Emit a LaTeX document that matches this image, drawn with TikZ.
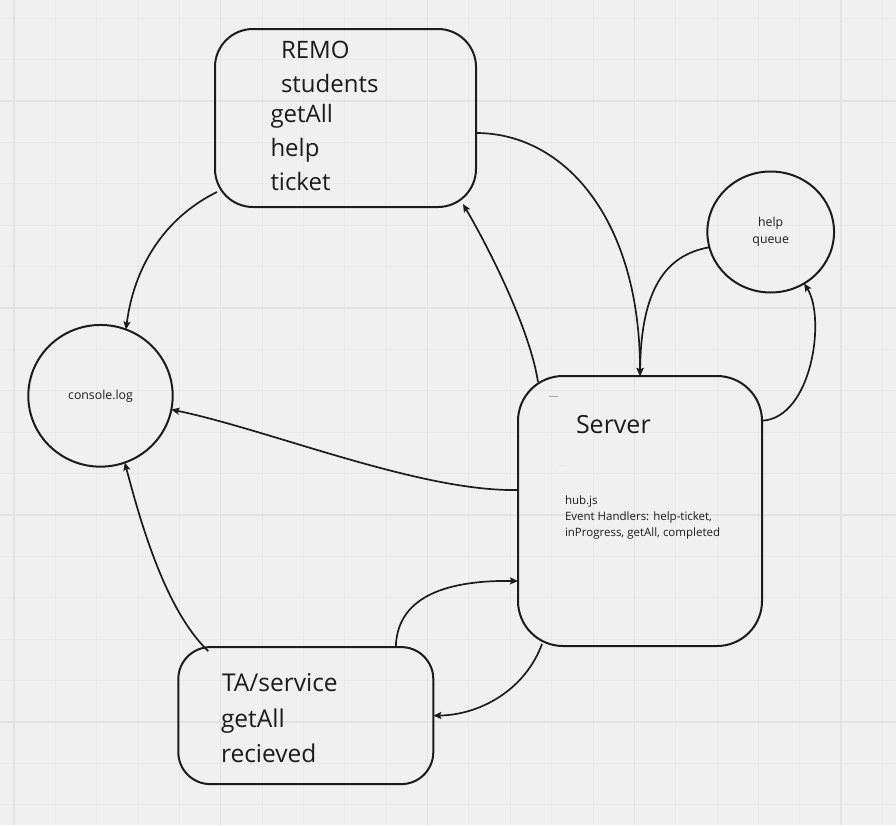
\documentclass[tikz,border=0pt]{standalone}
\usepackage{fontspec}
\setmainfont{Open Sans}
\usepackage{tikz}
\usetikzlibrary{arrows.meta,shapes.geometric}

\definecolor{paper}{HTML}{F0F0F0}
\definecolor{gridminor}{HTML}{E9E9E9}
\definecolor{gridmajor}{HTML}{E2E2E2}
\definecolor{ink}{HTML}{1C1C1C}

\begin{document}
\begin{tikzpicture}[x=1pt, y=-1pt, every node/.style={
    inner sep=0pt,
    outer sep=0pt,
    text=ink,
  },
  box/.style={rectangle, draw=ink, line width=2pt},
  blob/.style={ellipse, draw=ink, line width=2pt, align=center,
    font=\fontsize{12.3}{17}\selectfont},
  big/.style={anchor=base west, font=\fontsize{24}{30}\selectfont},
  small/.style={anchor=base west, font=\fontsize{11.5}{16}\selectfont},
  link/.style={draw=ink, line width=1.7pt,
    -{Stealth[length=8pt, width=7pt, inset=1.5pt]}}]

  % paper and grid
  \useasboundingbox (0,0) rectangle (896,825);
  \fill[paper] (0,0) rectangle (896,825);
  \foreach \i in {0,...,21}
    \draw[gridminor, line width=0.8pt] ({14+41.35*\i},0) -- ++(0,825);
  \foreach \j in {0,...,19}
    \draw[gridminor, line width=0.8pt] (0,{18.2+41.4*\j}) -- ++(896,0);
  \foreach \i in {0,...,4}
    \draw[gridmajor, line width=1.1pt] ({14+206.75*\i},0) -- ++(0,825);
  \foreach \j in {0,...,3}
    \draw[gridmajor, line width=1.1pt] (0,{101+207*\j}) -- ++(896,0);

  % boxes and circles
  \node[box, rounded corners=38pt, minimum width=261pt, minimum height=178pt] (remo) at (345.5,118) {};
  \node[box, rounded corners=45pt, minimum width=244pt, minimum height=270pt] (server) at (640,511) {};
  \node[box, rounded corners=32pt, minimum width=255pt, minimum height=137pt] (ta) at (305.8,715.6) {};
  \node[blob, minimum width=126.7pt, minimum height=121pt] (queue) at (770.7,232) {help\\queue};
  \node[blob, minimum width=144.4pt, minimum height=141.7pt] (console) at (100.5,395.8) {console.log};

  % texts
  \node[big] (t1) at (281,58.3) {REMO};
  \node[big] (t2) at (281,92) {students};
  \node[big] (t3) at (270.5,122) {getAll};
  \node[big] (t4) at (270.5,156) {help};
  \node[big] (t5) at (270.5,190) {ticket};

  \node[big, font=\fontsize{25}{30}\selectfont] (s1) at (576,433.3) {Server};
  \node[small] (s2) at (565,504.3) {hub.js};
  \node[small] (s3) at (565,520.6) {Event Handlers: help-ticket,};
  \node[small] (s4) at (565,536.9) {inProgress, getAll, completed};
  \draw[gray!70, line width=1pt] (549,396) -- (558,396);
  \draw[gray!20, line width=1pt] (558,465) -- (567,465);

  \node[big, font=\fontsize{24.5}{30}\selectfont] (a1) at (222,691.7) {TA/service};
  \node[big, font=\fontsize{24.5}{30}\selectfont] (a2) at (221,727) {getAll};
  \node[big, font=\fontsize{24.5}{30}\selectfont] (a3) at (221,762.7) {recieved};

  % connectors
  \path[link] ([xshift=2pt, yshift=-74pt]remo.west) .. controls (170,215) and (135,260) .. (console.69);
  \path[link] ([yshift=-15pt]remo.east) .. controls (565,133) and (640,220) .. (server.north);
  \path[link] ([xshift=20pt, yshift=-6pt]server.north west) .. controls (530,330) and (490,250) .. ([xshift=-13pt, yshift=3pt]remo.south east);
  \path[link] (queue.194) .. controls (665,255) and (641,290) .. (server.north);
  \path[link] ([yshift=-44.7pt]server.north east) .. controls (812,418) and (826,318) .. (queue.-57);
  \path[link] ([yshift=21pt]server.west) .. controls (420,492) and (270,430) .. (console.-11);
  \path[link] ([xshift=30pt, yshift=-4pt]ta.north west) .. controls (165,610) and (140,520) .. (console.-70);
  \path[link] ([xshift=90pt]ta.north) .. controls (397,600) and (440,580) .. ([yshift=-70pt]server.west);
  \path[link] ([xshift=24pt, yshift=2pt]server.south west) .. controls (525,690) and (480,715) .. (ta.east);

\end{tikzpicture}
\end{document}
